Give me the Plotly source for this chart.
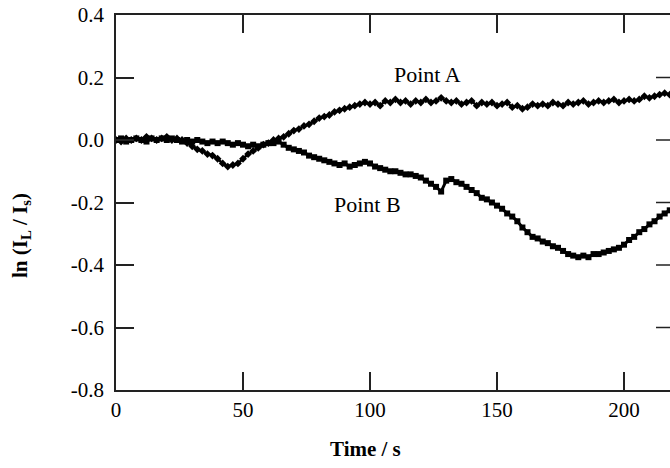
import plotly.graph_objects as go

time_s = [i * 2 for i in range(110)]  # 0 .. 218 s

point_a = [
    0.00, -0.005, 0.005, 0.00, 0.005, 0.00, 0.01, 0.005, 0.00, 0.005,
    0.01, 0.00, 0.005, 0.00, -0.01, -0.02, -0.03, -0.035, -0.045, -0.05,
    -0.06, -0.075, -0.085, -0.08, -0.075, -0.06, -0.045, -0.035, -0.025, -0.015,
    -0.01, 0.00, 0.005, 0.01, 0.02, 0.03, 0.035, 0.045, 0.05, 0.06,
    0.07, 0.075, 0.08, 0.09, 0.095, 0.10, 0.105, 0.11, 0.115, 0.12,
    0.115, 0.12, 0.11, 0.125, 0.12, 0.13, 0.12, 0.125, 0.115, 0.125,
    0.12, 0.13, 0.12, 0.125, 0.135, 0.125, 0.12, 0.125, 0.115, 0.12,
    0.125, 0.11, 0.12, 0.115, 0.12, 0.11, 0.115, 0.12, 0.105, 0.11,
    0.10, 0.105, 0.115, 0.11, 0.115, 0.11, 0.12, 0.115, 0.11, 0.12,
    0.115, 0.12, 0.125, 0.115, 0.12, 0.125, 0.12, 0.125, 0.13, 0.12,
    0.125, 0.13, 0.125, 0.13, 0.14, 0.135, 0.14, 0.145, 0.15, 0.145,
]

point_b = [
    0.00, 0.005, -0.005, 0.00, 0.005, 0.00, -0.005, 0.005, 0.00, 0.005,
    0.00, 0.005, 0.00, -0.005, 0.00, -0.005, 0.00, -0.005, -0.01, -0.005,
    -0.01, -0.005, -0.01, -0.015, -0.01, -0.015, -0.02, -0.015, -0.02, -0.015,
    -0.01, -0.01, -0.005, -0.015, -0.025, -0.03, -0.035, -0.04, -0.05, -0.055,
    -0.06, -0.065, -0.07, -0.075, -0.08, -0.075, -0.085, -0.08, -0.075, -0.07,
    -0.075, -0.085, -0.09, -0.095, -0.10, -0.10, -0.105, -0.11, -0.11, -0.115,
    -0.12, -0.13, -0.14, -0.15, -0.165, -0.13, -0.125, -0.135, -0.14, -0.15,
    -0.16, -0.17, -0.185, -0.19, -0.20, -0.21, -0.22, -0.235, -0.245, -0.26,
    -0.28, -0.295, -0.31, -0.315, -0.325, -0.33, -0.34, -0.345, -0.355, -0.365,
    -0.37, -0.375, -0.37, -0.375, -0.365, -0.365, -0.36, -0.355, -0.35, -0.345,
    -0.335, -0.32, -0.31, -0.295, -0.285, -0.27, -0.26, -0.245, -0.235, -0.225,
]

x_ticks = [0, 50, 100, 150, 200]
y_ticks = [-0.8, -0.6, -0.4, -0.2, 0.0, 0.2, 0.4]
y_tick_text = ["-0.8", "-0.6", "-0.4", "-0.2", "0.0", "0.2", "0.4"]

FONT = "Liberation Serif"
X_MAX = 218.1

fig = go.Figure()
fig.add_trace(go.Scatter(
    x=time_s, y=point_a, mode="lines+markers",
    line=dict(color="black", width=2.5),
    marker=dict(symbol="diamond", size=6, color="black"),
    showlegend=False,
))
fig.add_trace(go.Scatter(
    x=time_s, y=point_b, mode="lines+markers",
    line=dict(color="black", width=3),
    marker=dict(symbol="square", size=6, color="black"),
    showlegend=False,
))

# short inward ticks on the right frame edge (frame itself lies just off-screen)
for yv in y_ticks[1:-1]:
    fig.add_shape(type="line", xref="x", yref="y", layer="above",
                  x0=X_MAX - 14 / 2.54, x1=X_MAX, y0=yv, y1=yv,
                  line=dict(color="#222", width=1.5))

fig.add_annotation(x=122.5, y=0.21, text="Point A", showarrow=False,
                   xanchor="center", yanchor="middle",
                   font=dict(family=FONT, size=22, color="black"))
fig.add_annotation(x=99, y=-0.205, text="Point B", showarrow=False,
                   xanchor="center", yanchor="middle",
                   font=dict(family=FONT, size=22, color="black"))
fig.add_annotation(xref="paper", yref="paper", x=(365 - 116) / 554, y=-(449 - 390) / 375,
                   text="<b>Time / s</b>", showarrow=False,
                   xanchor="center", yanchor="middle",
                   font=dict(family=FONT, size=21, color="black"))
fig.add_annotation(xref="paper", yref="paper", x=(21 - 116) / 554, y=(390 - 236) / 375,
                   text="<b>ln (I<sub>L</sub> / I<sub>s</sub>)</b>", showarrow=False,
                   textangle=-90, xanchor="center", yanchor="middle",
                   font=dict(family=FONT, size=21, color="black"))

fig.update_layout(
    width=670, height=468,
    margin=dict(l=116, r=0, t=15, b=78),
    paper_bgcolor="white", plot_bgcolor="white",
    font=dict(family=FONT, size=21, color="black"),
    xaxis=dict(
        range=[0, X_MAX], tickvals=x_ticks, ticks="inside", ticklen=18,
        tickwidth=1.5, tickcolor="#222", showline=True, linecolor="#222",
        linewidth=1.5, mirror="ticks", showgrid=False, zeroline=False,
        tickfont=dict(family=FONT, size=21),
    ),
    yaxis=dict(
        range=[-0.8, 0.4], tickvals=y_ticks, ticktext=y_tick_text,
        ticks="inside", ticklen=18, tickwidth=1.5, tickcolor="#222",
        showline=True, linecolor="#222", linewidth=1.5, mirror=False,
        showgrid=False, zeroline=False, ticklabelstandoff=6,
        tickfont=dict(family=FONT, size=21),
    ),
)

fig.write_html(
    "out.html",
    config={"displayModeBar": False},
    post_script="document.body.style.margin='0';document.body.style.overflow='hidden';",
)
